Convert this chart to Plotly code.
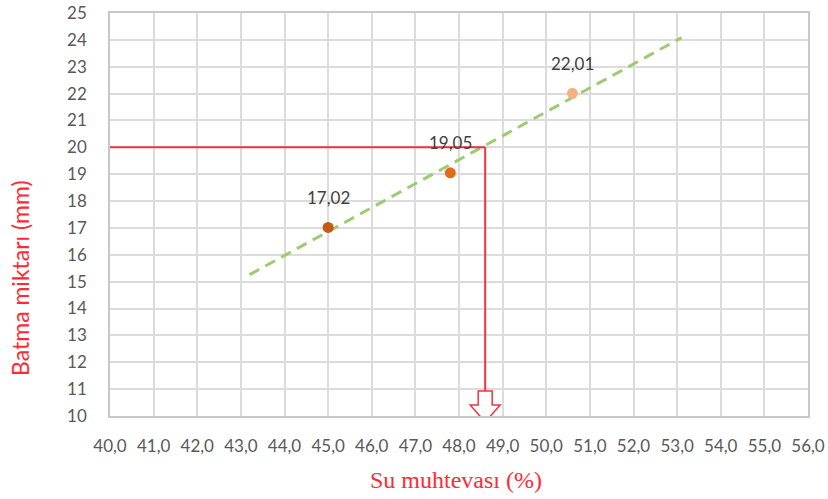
import numpy as np
import plotly.graph_objects as go

# Measured points: water content (%) vs. penetration (mm)
su_muhtevasi = [45.0, 47.8, 50.6]
batma_miktari = [17.02, 19.05, 22.01]
nokta_renkleri = ["#C55A11", "#E36C1A", "#F4B183"]
etiketler = ["17,02", "19,05", "22,01"]

# Linear trend extent (backward / forward forecast)
trend_bas, trend_son = 43.2, 53.1

# Reading at the 20 mm penetration level
hedef_batma = 20
okunan_su = 48.6

x_ticks = [40 + i for i in range(17)]
x_tick_text = [f"{v:.1f}".replace(".", ",") for v in x_ticks]
y_ticks = list(range(10, 26))

egim, kesim = np.polyfit(su_muhtevasi, batma_miktari, 1)
trend_x = [trend_bas, trend_son]
trend_y = [egim * v + kesim for v in trend_x]

fig = go.Figure()

fig.add_trace(go.Scatter(
    x=trend_x, y=trend_y, mode="lines",
    line=dict(color="#9DCB72", width=3, dash="11px,7px"),
    hoverinfo="skip", showlegend=False,
))

fig.add_trace(go.Scatter(
    x=su_muhtevasi, y=batma_miktari, mode="markers",
    marker=dict(size=11, color=nokta_renkleri),
    showlegend=False,
))

for xv, yv, t in zip(su_muhtevasi, batma_miktari, etiketler):
    fig.add_annotation(x=xv, y=yv, text=t, showarrow=False, yshift=30,
                       font=dict(family="Lato", size=17, color="#404040"))

kirmizi = "#F0343F"
# Horizontal reading line at 20 mm, then down to the x axis
fig.add_shape(type="line", x0=40, x1=okunan_su, y0=hedef_batma, y1=hedef_batma,
              line=dict(color=kirmizi, width=2), layer="above")
fig.add_shape(type="line", x0=okunan_su, x1=okunan_su, y0=hedef_batma, y1=10,
              line=dict(color=kirmizi, width=2), layer="above")
# Hollow block arrow pointing at the x axis
fig.add_shape(type="path", xsizemode="pixel", ysizemode="pixel",
              xanchor=okunan_su, yanchor=10,
              path="M -7,25 L 7,25 L 7,11 L 15,11 L 0,-6 L -15,11 L -7,11 Z",
              fillcolor="white", line=dict(color=kirmizi, width=1.5), layer="above")

fig.add_annotation(xref="paper", yref="paper", x=-90 / 698, y=(416 - 278) / 403,
                   text="Batma miktarı (mm)", textangle=-90, showarrow=False,
                   xanchor="center", yanchor="middle",
                   font=dict(family="Lato", size=23, color="#FF2A35"))
fig.add_annotation(xref="paper", yref="paper", x=(456 - 110) / 698, y=-(480 - 416) / 403,
                   text="Su muhtevası (%)", showarrow=False,
                   xanchor="center", yanchor="middle",
                   font=dict(family="Liberation Serif", size=24, color="#FF2A35"))

fig.update_xaxes(
    range=[40, 56], tickvals=x_ticks, ticktext=x_tick_text,
    showgrid=True, gridcolor="#DCDCDC", gridwidth=1.5,
    showline=True, linecolor="#C8C8C8", linewidth=1.5, mirror=True,
    zeroline=False, ticks="", ticklabelstandoff=14, automargin=False,
    tickfont=dict(family="Lato", size=17, color="#595959"),
)
fig.update_yaxes(
    range=[10, 25], tickvals=y_ticks,
    showgrid=True, gridcolor="#DCDCDC", gridwidth=1.5,
    showline=True, linecolor="#C8C8C8", linewidth=1.5, mirror=True,
    zeroline=False, ticks="", ticklabelstandoff=18, automargin=False,
    tickfont=dict(family="Lato", size=17, color="#595959"),
)

fig.update_layout(
    width=828, height=499,
    margin=dict(l=110, r=20, t=13, b=83),
    paper_bgcolor="white", plot_bgcolor="white",
    showlegend=False,
)

fig.write_html("out.html")
